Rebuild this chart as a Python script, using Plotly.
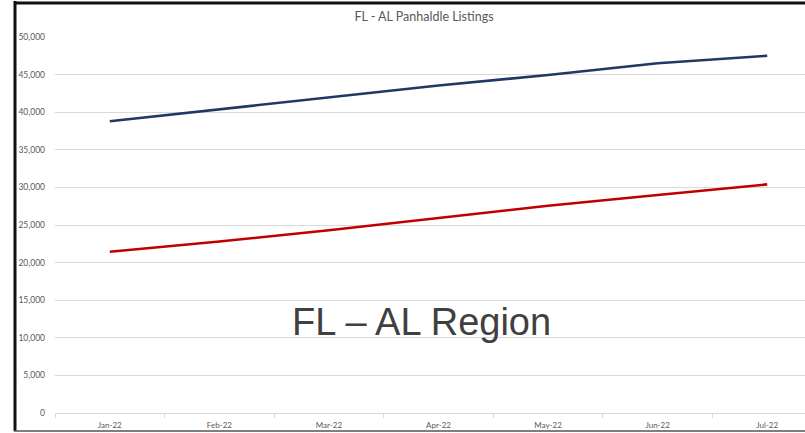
import plotly.graph_objects as go

months = ["Jan-22", "Feb-22", "Mar-22", "Apr-22", "May-22", "Jun-22", "Jul-22"]
fl_al_total = [38800, 40400, 41900, 43550, 44950, 46500, 47500]
fl_al_other = [21450, 22800, 24300, 25900, 27550, 29000, 30400]
y_ticks = [0, 5000, 10000, 15000, 20000, 25000, 30000, 35000, 40000, 45000, 50000]

W, H = 805, 433
L, R, T, B = 55, 0, 37, 20

fig = go.Figure()
fig.add_trace(go.Scatter(x=months, y=fl_al_total, mode="lines",
                         line=dict(color="#1f3864", width=2.6), showlegend=False))
fig.add_trace(go.Scatter(x=months, y=fl_al_other, mode="lines",
                         line=dict(color="#c00000", width=2.6), showlegend=False))

pw = W - L - R
ph = H - T - B

def px(x):
    return (x - L) / pw

def py(y):
    return (H - B - y) / ph

shapes = [
    dict(type="line", xref="paper", yref="paper", x0=px(15), x1=px(15), y0=py(1), y1=py(431),
         line=dict(color="#111111", width=3)),
    dict(type="line", xref="paper", yref="paper", x0=px(14), x1=px(805), y0=py(3), y1=py(3),
         line=dict(color="#111111", width=3)),
    dict(type="line", xref="paper", yref="paper", x0=px(14), x1=px(805), y0=py(431), y1=py(431),
         line=dict(color="#555555", width=1.5)),
]

fig.update_layout(
    width=W, height=H,
    margin=dict(l=L, r=R, t=T, b=B, autoexpand=False),
    paper_bgcolor="white", plot_bgcolor="white",
    title=dict(text="FL - AL Panhaldle Listings", x=424 / W, xanchor="center",
               y=1 - 17 / H, yanchor="middle",
               font=dict(family="Lato, Open Sans, sans-serif", size=12.5, color="#595959")),
    font=dict(family="Lato, Open Sans, sans-serif", size=8.5, color="#595959"),
    shapes=shapes,
    annotations=[dict(text="FL \u2013 AL Region", xref="paper", yref="paper",
                      x=px(421), y=py(322), xanchor="center", yanchor="middle",
                      showarrow=False,
                      font=dict(family="Liberation Sans, Arial, sans-serif", size=38, color="#404040"))],
    xaxis=dict(type="category", range=[-0.5, 6.345], showgrid=False,
               showline=True, linecolor="#d9d9d9", linewidth=1,
               tickson="boundaries", ticks="outside", ticklen=4, tickcolor="#d9d9d9",
               ticklabelstandoff=4,
               tickfont=dict(size=8, color="#595959"), zeroline=False, fixedrange=True,
               automargin=False),
    yaxis=dict(range=[0, 50000], tickvals=y_ticks, tickformat=",d",
               showgrid=True, gridcolor="#d9d9d9", gridwidth=1,
               zeroline=False, showline=False, ticks="", ticklabelstandoff=9,
               tickfont=dict(size=8.5, color="#595959"), fixedrange=True,
               automargin=False),
)

fig.write_html("out.html", config={"displayModeBar": False},
               post_script="document.body.style.margin='0';document.body.style.padding='0';")
